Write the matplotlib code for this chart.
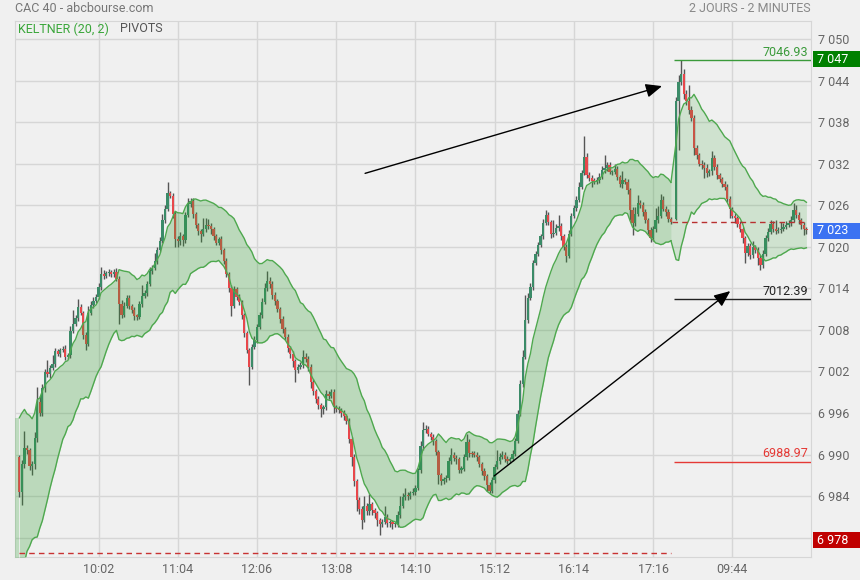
import matplotlib.pyplot as plt
from matplotlib.patches import Rectangle
import numpy as np

plt.rcParams['font.family'] = ['Roboto', 'DejaVu Sans']

# --- data (CAC 40, 2-minute candles, two sessions) ---
day1_open = 6989.7
day1_close = [
    6984.6, 6988.6, 6990.9, 6990.6, 6988.4, 6988.7, 6992.4, 6997.6, 6996.0, 6999.6, 7001.9, 7001.6, 7002.5, 7003.1, 7004.9, 7004.5,
    7005.1, 7005.3, 7004.1, 7004.4, 7007.9, 7008.8, 7009.7, 7011.3, 7010.4, 7007.3, 7006.0, 7010.5, 7011.6, 7012.2, 7012.8, 7014.2,
    7016.1, 7015.8, 7016.2, 7016.4, 7016.0, 7016.4, 7015.4, 7011.8, 7010.2, 7011.4, 7012.6, 7011.5, 7010.9, 7010.0, 7009.9, 7011.7,
    7012.9, 7013.3, 7014.6, 7016.5, 7016.9, 7017.9, 7019.5, 7020.9, 7023.8, 7025.5, 7027.7, 7027.3, 7024.7, 7021.1, 7020.8, 7021.5,
    7021.0, 7024.6, 7026.2, 7026.6, 7024.7, 7023.1, 7022.3, 7021.9, 7022.5, 7023.2, 7023.0, 7022.5, 7021.5, 7020.6, 7021.1, 7019.5,
    7018.0, 7016.0, 7014.1, 7011.5, 7013.9, 7012.8, 7012.0, 7010.1, 7007.5, 7005.1, 7002.7, 7005.5, 7006.5, 7008.4, 7010.1, 7012.0,
    7014.0, 7015.1, 7014.6, 7013.1, 7012.1, 7011.0, 7009.6, 7008.1, 7007.0, 7005.4, 7004.5, 7003.5, 7002.2, 7002.6, 7002.9, 7004.1,
    7003.8, 7002.7, 7000.5, 6999.1, 6998.0, 6997.1, 6996.5, 6996.8, 6998.7, 6998.5, 6999.0, 6996.9, 6996.6, 6996.4, 6996.0, 6995.5,
    6994.8, 6992.3, 6989.7, 6986.2, 6983.4, 6982.1, 6980.6, 6982.6, 6981.8, 6982.8, 6982.0, 6981.5, 6980.5, 6980.0, 6980.3, 6981.0,
    6980.1, 6980.2, 6980.0, 6980.0, 6981.3, 6982.6, 6983.8, 6984.2, 6984.0, 6984.4, 6984.6, 6985.2, 6987.7, 6991.2, 6993.5, 6993.7,
    6993.0, 6992.5, 6991.9, 6990.3, 6987.0, 6986.2, 6986.4, 6986.6, 6989.0, 6989.9, 6989.5, 6989.3, 6987.8, 6987.9, 6989.6, 6991.8,
    6990.2, 6990.1, 6990.0, 6989.6, 6988.6, 6987.6, 6986.9, 6985.6, 6984.8, 6986.3, 6988.2, 6989.0, 6989.6, 6990.0, 6989.4, 6989.1,
    6989.4, 6990.1, 6992.0, 6995.9, 7000.2, 7004.1, 7009.4, 7012.6, 7014.2, 7017.6, 7019.0, 7020.2, 7021.5, 7023.4, 7024.6, 7023.6,
    7021.8, 7022.0, 7022.7, 7023.0, 7021.5, 7020.0, 7018.7, 7021.9, 7024.4, 7025.6, 7026.8, 7028.7, 7030.6, 7033.0, 7030.4, 7030.0,
    7029.5, 7029.4, 7029.6, 7030.1, 7031.1, 7031.4, 7031.8, 7030.8, 7030.8, 7031.3, 7030.1, 7029.0, 7029.6, 7029.4, 7028.2, 7025.3,
    7023.4, 7024.8, 7026.3, 7026.0, 7025.0, 7023.9, 7022.4, 7021.2, 7022.5, 7023.9, 7024.4, 7026.8, 7025.5, 7025.0, 7024.0, 7023.6,
]
day1_up = [
    0.3, 0.6, 2.5, 0.5, 0.4, 0.3, 0.8, 2.2, 0.9, 0.6, 0.5, 1.8, 0.4, 1.2, 0.5, 0.4,
    0.3, 0.4, 0.5, 0.3, 0.6, 2.0, 0.5, 1.1, 0.4, 0.3, 0.4, 0.9, 0.6, 0.5, 0.4, 0.6,
    1.0, 0.5, 0.3, 0.4, 0.3, 0.4, 0.5, 0.4, 0.5, 0.6, 0.4, 0.5, 0.3, 0.4, 0.3, 0.5,
    1.6, 0.4, 0.5, 0.6, 0.4, 1.2, 0.4, 0.5, 0.9, 0.6, 1.7, 0.4, 0.5, 0.4, 0.5, 0.6,
    0.4, 0.4, 0.8, 0.5, 0.4, 0.3, 0.4, 0.3, 1.6, 1.0, 0.8, 0.4, 0.3, 0.4, 0.3, 0.5,
    0.3, 0.4, 0.3, 0.4, 0.5, 0.3, 0.4, 0.3, 0.3, 0.4, 0.3, 0.5, 0.6, 0.4, 0.5, 0.6,
    0.8, 1.4, 0.6, 0.4, 0.3, 0.4, 0.3, 0.4, 0.3, 0.4, 0.3, 0.4, 0.3, 0.5, 0.4, 1.0,
    0.5, 0.4, 0.3, 0.4, 0.3, 0.4, 0.3, 0.4, 0.6, 0.5, 0.4, 0.4, 0.3, 0.4, 0.3, 0.4,
    0.3, 0.4, 0.3, 0.4, 0.3, 0.4, 0.5, 1.4, 0.4, 1.5, 0.4, 0.3, 0.4, 0.3, 0.4, 1.5,
    0.4, 0.3, 0.4, 0.3, 0.5, 1.4, 0.6, 1.0, 0.4, 0.4, 0.5, 0.4, 0.4, 0.7, 1.2, 0.6,
    0.4, 0.3, 0.4, 0.3, 0.4, 0.3, 0.4, 0.5, 0.6, 1.1, 0.4, 0.5, 0.3, 0.4, 0.5, 1.2,
    0.4, 0.3, 0.4, 0.3, 0.4, 0.3, 0.4, 0.3, 0.4, 0.5, 0.4, 1.6, 0.6, 0.5, 0.3, 0.4,
    0.3, 0.5, 0.4, 0.5, 0.6, 1.0, 3.6, 0.7, 0.6, 0.5, 0.4, 0.5, 0.4, 0.6, 0.7, 0.4,
    0.3, 1.9, 0.6, 1.6, 0.4, 0.3, 0.4, 0.5, 0.5, 0.4, 0.5, 0.6, 0.5, 3.0, 0.6, 0.4,
    0.3, 0.4, 0.5, 0.6, 0.6, 1.9, 0.5, 0.4, 0.3, 0.6, 0.4, 0.3, 1.3, 0.4, 0.4, 0.3,
    0.4, 0.9, 1.2, 0.5, 0.4, 0.4, 0.3, 0.4, 0.5, 1.7, 1.5, 0.8, 0.5, 0.4, 0.4, 0.3,
]
day1_dn = [
    0.8, 1.9, 0.6, 0.5, 0.6, 1.4, 0.8, 0.6, 0.5, 0.4, 0.6, 0.4, 0.5, 0.3, 0.4, 0.3,
    0.4, 0.3, 0.4, 0.3, 0.5, 0.4, 0.3, 0.4, 0.3, 0.6, 0.9, 0.4, 0.3, 0.4, 0.3, 0.4,
    0.5, 0.4, 0.3, 0.4, 0.3, 0.4, 0.3, 2.9, 0.5, 0.4, 0.3, 0.5, 0.4, 0.6, 0.5, 0.3,
    0.4, 0.3, 0.4, 0.3, 0.4, 0.3, 0.4, 0.3, 0.4, 0.3, 0.4, 0.3, 0.5, 1.1, 0.8, 0.6,
    0.9, 0.4, 0.3, 0.4, 0.5, 0.4, 0.6, 1.2, 0.4, 0.3, 0.4, 0.6, 0.5, 0.4, 0.3, 0.6,
    0.5, 0.4, 0.6, 1.5, 0.3, 0.5, 0.4, 0.6, 0.5, 0.4, 2.6, 0.4, 0.3, 0.4, 0.3, 0.4,
    0.3, 0.4, 0.5, 0.6, 0.5, 0.4, 0.6, 0.5, 0.4, 0.6, 0.5, 0.8, 1.7, 0.4, 0.3, 0.4,
    0.5, 0.6, 0.9, 0.5, 0.6, 0.5, 1.1, 0.6, 0.4, 0.5, 0.4, 0.9, 0.5, 0.4, 0.6, 0.5,
    0.4, 0.6, 1.4, 0.8, 1.6, 0.7, 1.4, 0.4, 0.6, 0.5, 0.7, 0.6, 0.8, 1.6, 0.5, 0.4,
    0.6, 0.5, 0.7, 0.4, 0.5, 0.4, 0.3, 0.4, 0.5, 0.4, 0.3, 0.4, 0.3, 0.4, 0.5, 0.4,
    0.3, 0.4, 0.5, 0.4, 1.2, 0.6, 0.5, 0.4, 0.3, 0.4, 0.5, 0.6, 0.5, 0.4, 0.3, 0.4,
    0.5, 0.4, 0.3, 0.5, 0.4, 0.5, 0.6, 0.8, 0.4, 0.3, 0.4, 0.3, 0.4, 0.3, 0.5, 0.4,
    0.3, 0.4, 0.3, 0.4, 0.3, 0.4, 0.3, 0.4, 0.3, 0.4, 0.3, 0.4, 0.3, 0.4, 0.3, 0.4,
    0.5, 0.4, 0.3, 0.4, 0.5, 0.4, 0.9, 0.3, 0.4, 0.3, 0.4, 0.3, 0.4, 0.3, 0.4, 0.5,
    0.9, 0.4, 0.3, 0.4, 0.3, 0.4, 0.5, 0.3, 0.4, 0.3, 0.5, 0.4, 0.5, 0.4, 0.6, 1.4,
    1.7, 0.4, 0.3, 0.4, 0.5, 0.4, 0.6, 0.5, 0.4, 0.3, 0.4, 0.3, 0.4, 0.5, 0.4, 0.3,
]

day2_open = 7024.0
day2_close = [
    7041.0, 7043.8, 7045.0, 7042.0, 7041.0, 7039.8, 7038.6, 7034.2, 7033.2, 7032.0, 7031.8, 7031.4, 7030.6, 7030.9, 7032.8, 7031.5,
    7030.3, 7029.8, 7029.1, 7028.6, 7026.9, 7025.4, 7024.5, 7024.1, 7023.3, 7022.6, 7021.2, 7019.1, 7020.1, 7018.8, 7019.9, 7019.6,
    7018.4, 7017.4, 7019.0, 7021.3, 7022.2, 7023.3, 7022.6, 7022.3, 7022.4, 7022.6, 7022.9, 7023.1, 7023.4, 7023.9, 7025.3, 7024.6,
    7023.8, 7023.2, 7022.6, 7022.4,
]
day2_up = [
    0.6, 1.0, 1.9, 0.6, 0.6, 2.4, 0.5, 0.4, 0.5, 0.4, 0.5, 0.4, 0.5, 0.4, 1.0, 0.4,
    0.5, 0.4, 0.3, 0.4, 0.5, 0.4, 0.3, 0.4, 0.3, 0.4, 0.3, 0.4, 0.5, 0.4, 1.0, 0.4,
    0.3, 0.4, 0.5, 0.4, 0.5, 0.6, 0.4, 1.2, 0.4, 1.0, 0.5, 0.6, 0.4, 0.5, 1.0, 0.8,
    0.4, 0.3, 0.4, 0.3,
]
day2_dn = [
    0.2, 7.0, 0.5, 0.6, 0.5, 0.6, 0.5, 0.9, 0.5, 0.4, 0.5, 1.4, 0.5, 0.4, 0.5, 0.4,
    0.5, 0.4, 0.5, 0.4, 0.5, 1.3, 0.4, 0.7, 0.5, 0.4, 0.6, 1.4, 0.5, 0.6, 0.4, 0.5,
    1.0, 0.8, 0.4, 0.3, 0.4, 0.3, 0.4, 0.5, 0.3, 0.4, 0.3, 0.4, 0.3, 0.4, 0.3, 0.4,
    0.5, 0.6, 0.9, 0.5,
]

prev_close_day1 = 6975.8
kelt_mid0, kelt_atr0 = 6984.5, 5.4
pivots = [7046.93, 7012.39, 6988.97]
pivot_colors = ['#3a9a3a', '#222222', '#e53935']
tick_times = ['10:02', '11:04', '12:06', '13:08', '14:10', '15:12', '16:14', '17:16', '09:44']
tick_slots = [31, 62, 93, 124, 155, 186, 217, 248, 279]
price_ticks = list(range(6978, 7051, 6))
badges = [('7 047', 7047.1, '#008000'), ('7 023', 7022.3, '#3b72f2'), ('6 978', 6977.6, '#c00000')]

# --- build candles ---
n1, n2 = len(day1_close), len(day2_close)
xs = np.array(list(range(n1)) + list(range(n1 + 1, n1 + 1 + n2)))
close = np.array(day1_close + day2_close)
opens = np.concatenate([[day1_open], close[:n1 - 1], [day2_open], close[n1:-1]])
highs = np.maximum(opens, close) + np.array(day1_up + day2_up)
lows = np.minimum(opens, close) - np.array(day1_dn + day2_dn)

# Keltner (20, 2): EMA20 of close +/- 2 x smoothed true range
a_mid, a_atr = 2 / 21, 2 / 15
mid = [kelt_mid0]
atr = [kelt_atr0]
for i in range(1, len(close)):
    tr = max(highs[i], close[i - 1]) - min(lows[i], close[i - 1])
    mid.append(mid[-1] + a_mid * (close[i] - mid[-1]))
    atr.append(atr[-1] + a_atr * (tr - atr[-1]))
mid, atr = np.array(mid), np.array(atr)
upper, lower = mid + 2 * atr, mid - 2 * atr

# --- figure ---
W, H = 860, 580
fig = plt.figure(figsize=(W / 100, H / 100), dpi=100, facecolor='#f0f0f0')
ax = fig.add_axes([15 / W, (H - 557) / H, 796 / W, 536 / H], facecolor='#f0f0f0')
ax.set_xlim(-1.7, 309.8)
ax.set_ylim(6975.2, 7052.6)

up_col, dn_col = '#3b8b68', '#e8474b'
cols = np.where(close >= opens, up_col, dn_col)
body_lo = np.minimum(opens, close)
body_h = np.maximum(np.abs(close - opens), 0.18)
ax.vlines(xs, lows, highs, color='#555555', lw=1, zorder=2)
ax.bar(xs, body_h, bottom=body_lo, width=0.9, color=cols, linewidth=0, zorder=3)

# bands: day 1 darker, day 2 lighter
ax.fill_between([-1.7, 0], [lower[0]] * 2, [upper[0]] * 2, color='#4caf50', alpha=0.3, lw=0, zorder=4)
ax.fill_between(xs[:n1], lower[:n1], upper[:n1], color='#2e9e2e', alpha=0.27, lw=0, zorder=4)
ax.fill_between(xs[n1 - 1:], lower[n1 - 1:], upper[n1 - 1:], color='#2e9e2e', alpha=0.17, lw=0, zorder=4)
for seg in (slice(0, n1), slice(n1 - 1, None)):
    ax.plot(xs[seg], upper[seg], color='#4ea84e', lw=1, zorder=5)
    ax.plot(xs[seg], lower[seg], color='#4ea84e', lw=1, zorder=5)

# previous close lines
ax.hlines(prev_close_day1, 0, n1 - 1, colors='#c83232', linestyles=(0, (4, 3)), lw=1, zorder=5)
ax.hlines(close[n1 - 1], n1 - 0.5, xs[-1] + 0.5, colors='#b83030', linestyles=(0, (4, 3)), lw=1, zorder=5)

# pivots
for p, c in zip(pivots, pivot_colors):
    ax.hlines(p, n1 + 0.3, 309.8, colors=c, lw=1, zorder=5)
    ax.text(308.8, p + 0.25, f'{p:.2f}', color=c, fontsize=9, ha='right', va='bottom', zorder=6)

# arrows
arrow_kw = dict(arrowstyle='-|>,head_length=0.7,head_width=0.3', color='black', lw=1,
                shrinkA=0, shrinkB=0, mutation_scale=14)
ax.annotate('', xy=(251.5, 7043.2), xytext=(135.3, 7030.6), arrowprops=arrow_kw, zorder=7)
ax.annotate('', xy=(278.2, 7013.6), xytext=(185.8, 6986.9), arrowprops=arrow_kw, zorder=7)

# axes styling
ax.set_xticks(tick_slots)
ax.set_xticklabels(tick_times)
ax.set_yticks(price_ticks)
ax.set_yticklabels([f'{v // 1000} {v % 1000:03d}' for v in price_ticks])
ax.yaxis.tick_right()
ax.tick_params(axis='both', length=0, colors='#666666', labelsize=9)
ax.tick_params(axis='x', pad=4)
ax.tick_params(axis='y', pad=5)
ax.grid(True, color='#d6d6d6', lw=1, zorder=0)
ax.set_axisbelow(True)
for s in ax.spines.values():
    s.set_color('#d6d6d6')

# header
fig.text(15 / W, 1 - 8 / H, 'CAC 40 - abcbourse.com', color='#777777', fontsize=9, va='center', ha='left')
fig.text(811 / W, 1 - 8 / H, '2 JOURS - 2 MINUTES', color='#888888', fontsize=9, va='center', ha='right')
fig.text(18 / W, 1 - 29 / H, 'KELTNER (20, 2)', color='#3aa63a', fontsize=9, va='center', ha='left')
fig.text(120 / W, 1 - 29 / H, 'PIVOTS', color='#555555', fontsize=9, va='center', ha='left')

# price badges on the right scale
for txt, p, c in badges:
    yc = ax.transData.transform((0, p))[1] / H
    fig.add_artist(Rectangle((813 / W, yc - 8 / H), 47 / W, 16 / H, transform=fig.transFigure,
                             facecolor=c, edgecolor='none', zorder=10))
    fig.text(817 / W, yc, txt, color='white', fontsize=9, va='center', ha='left', zorder=11)

fig.savefig('out.png', dpi=100, facecolor=fig.get_facecolor())
